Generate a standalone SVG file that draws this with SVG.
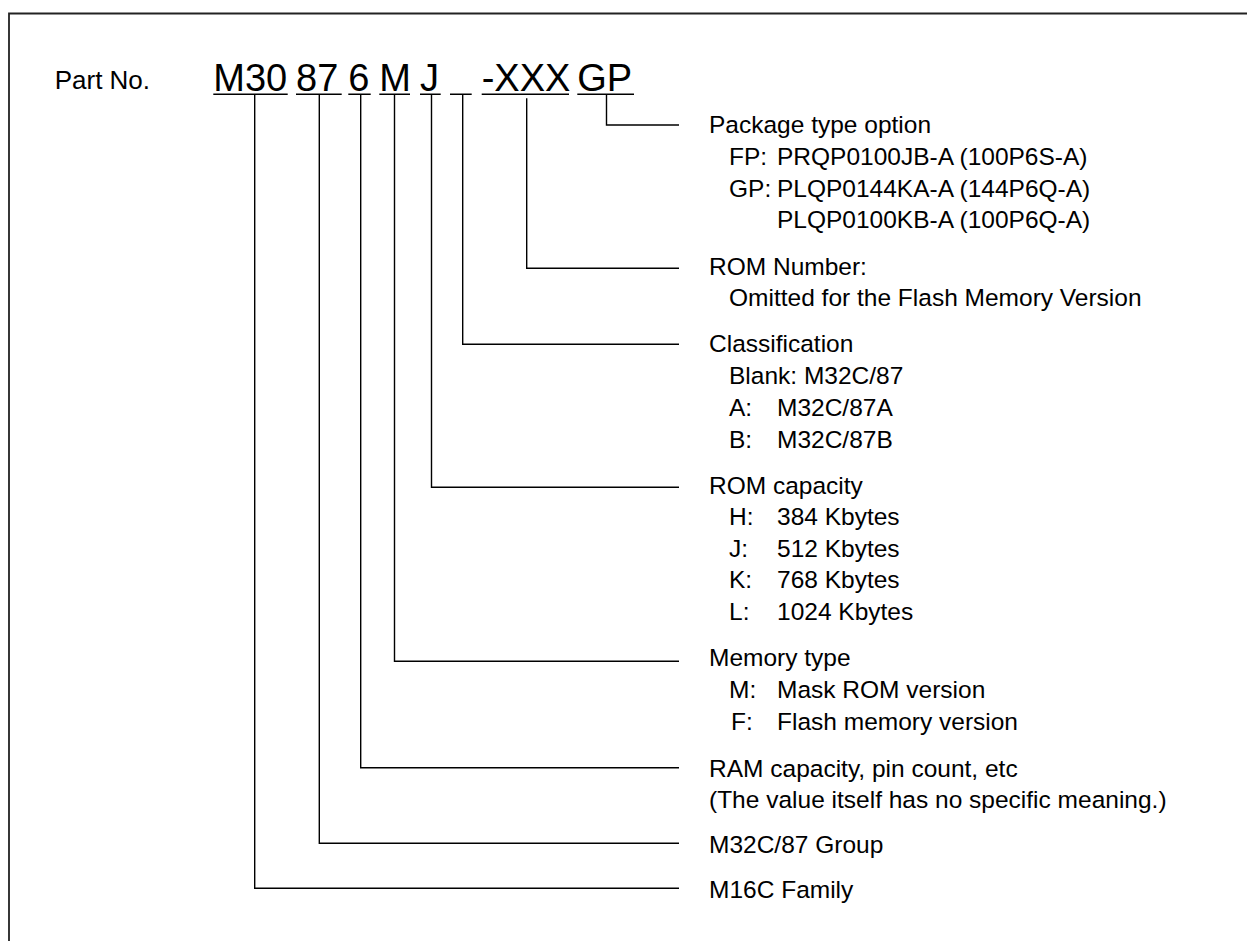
<svg xmlns="http://www.w3.org/2000/svg" width="1247" height="941" viewBox="0 0 1247 941">
<style>
text{font-family:"Liberation Sans",Arial,sans-serif;fill:#000}
.pn{font-size:38px}
.lbl{font-size:24.5px}
.ul{stroke:#000;stroke-width:1.6;fill:none}
.cn{stroke:#000;stroke-width:1.4;fill:none}
</style>
<rect width="1247" height="941" fill="#fff"/>
<path d="M9,941 V13.5 H1247" fill="none" stroke="#222" stroke-width="1.8"/>
<g id="partno">
<text x="54.7" y="89" font-size="26">Part No.</text>
<text class="pn" x="213.3" y="91">M30</text>
<text class="pn" x="296" y="91">87</text>
<text class="pn" x="348.3" y="91">6</text>
<text class="pn" x="379.3" y="91">M</text>
<text class="pn" x="420" y="91">J</text>
<text class="pn" x="481.7" y="91">-XXX</text>
<text class="pn" x="577.3" y="91">GP</text>
<path class="ul" d="M213.3,94.3H287.7 M296,94.3H341.7 M348.3,94.3H370.7 M379.3,94.3H410 M420,94.3H440.7 M450,94.3H471.7 M481.7,94.3H569 M577.3,94.3H634"/>
</g>
<g id="connectors">
<path class="cn" d="M606.5,94.3V125H679"/>
<path class="cn" d="M526.7,98.3V268.3H679"/>
<path class="cn" d="M462.7,94.3V344.3H679"/>
<path class="cn" d="M431.5,94.3V487.3H679"/>
<path class="cn" d="M394.5,94.3V661.3H679"/>
<path class="cn" d="M360.7,94.3V767.7H679"/>
<path class="cn" d="M319.3,94.3V843.3H679"/>
<path class="cn" d="M254.7,94.3V888.3H679"/>
</g>
<g id="package" class="lbl">
<text class="lbl" x="709" y="133">Package type option</text>
<text class="lbl" x="729" y="165">FP:</text><text class="lbl" x="777" y="165">PRQP0100JB-A (100P6S-A)</text>
<text class="lbl" x="729" y="196.5">GP:</text><text class="lbl" x="777" y="196.5">PLQP0144KA-A (144P6Q-A)</text>
<text class="lbl" x="777" y="228">PLQP0100KB-A (100P6Q-A)</text>
</g>
<g id="romnumber">
<text class="lbl" x="709" y="275">ROM Number:</text>
<text class="lbl" x="729" y="306">Omitted for the Flash Memory Version</text>
</g>
<g id="classification">
<text class="lbl" x="709" y="351.5">Classification</text>
<text class="lbl" x="729" y="383.5">Blank: M32C/87</text>
<text class="lbl" x="729" y="416">A:</text><text class="lbl" x="777" y="416">M32C/87A</text>
<text class="lbl" x="729" y="448">B:</text><text class="lbl" x="777" y="448">M32C/87B</text>
</g>
<g id="romcapacity">
<text class="lbl" x="709" y="493.5">ROM capacity</text>
<text class="lbl" x="729" y="525">H:</text><text class="lbl" x="777" y="525">384 Kbytes</text>
<text class="lbl" x="729" y="556.7">J:</text><text class="lbl" x="777" y="556.7">512 Kbytes</text>
<text class="lbl" x="729" y="588.3">K:</text><text class="lbl" x="777" y="588.3">768 Kbytes</text>
<text class="lbl" x="729" y="620">L:</text><text class="lbl" x="777" y="620">1024 Kbytes</text>
</g>
<g id="memorytype">
<text class="lbl" x="709" y="666">Memory type</text>
<text class="lbl" x="729" y="698">M:</text><text class="lbl" x="777" y="698">Mask ROM version</text>
<text class="lbl" x="731" y="729.6">F:</text><text class="lbl" x="777" y="729.6">Flash memory version</text>
</g>
<g id="ramcapacity">
<text class="lbl" x="709" y="776.5">RAM capacity, pin count, etc</text>
<text class="lbl" x="709" y="808">(The value itself has no specific meaning.)</text>
</g>
<g id="group">
<text class="lbl" x="709" y="852.5">M32C/87 Group</text>
</g>
<g id="family">
<text class="lbl" x="709" y="898">M16C Family</text>
</g>
</svg>
